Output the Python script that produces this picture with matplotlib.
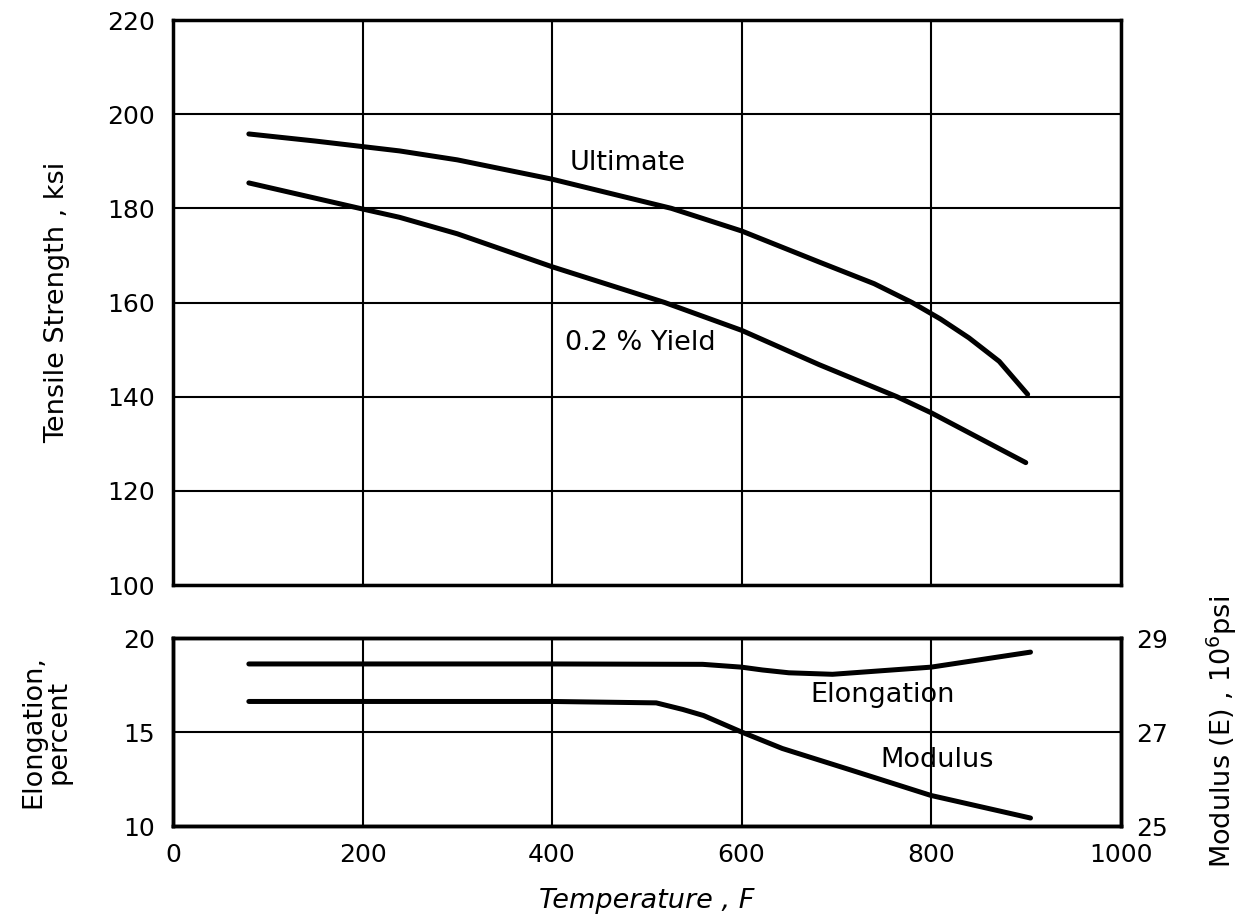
import matplotlib.pyplot as plt

# temperature, F
ult_temp = [80, 150, 239, 300, 400, 526, 600, 682, 740, 780, 810, 840, 872, 902]
ult_ksi = [195.8, 194.3, 192.2, 190.3, 186.2, 180.0, 175.2, 168.6, 164.0, 160.0,
           156.5, 152.5, 147.5, 140.5]

yld_temp = [80, 197, 239, 300, 400, 519, 600, 682, 764, 800, 900]
yld_ksi = [185.4, 180.0, 178.1, 174.6, 167.6, 160.0, 154.1, 146.8, 140.0, 136.6, 126.0]

elong_temp = [80, 200, 400, 559, 600, 622, 650, 696, 800, 905]
elong_pct = [18.62, 18.62, 18.62, 18.6, 18.45, 18.3, 18.15, 18.07, 18.45, 19.25]

mod_temp = [80, 200, 400, 510, 538, 560, 600, 643, 714, 800, 905]
mod_e = [27.65, 27.65, 27.65, 27.62, 27.48, 27.35, 27.0, 26.65, 26.2, 25.65, 25.17]

plt.rcParams['font.family'] = ['DejaVu Sans']
TICK_FS = 18
LABEL_FS = 19.5
LW = 3.6
SPINE_LW = 2.5
GRID_LW = 1.5

fig = plt.figure(figsize=(12.45, 9.18), dpi=100)
ax1 = fig.add_axes([0.139, 0.3627, 0.761, 0.6155])
ax2 = fig.add_axes([0.139, 0.1002, 0.761, 0.2048])

for ax in (ax1, ax2):
    ax.set_xlim(0, 1000)
    ax.set_xticks(range(0, 1001, 200))
    ax.grid(True, color='black', lw=GRID_LW)
    for s in ax.spines.values():
        s.set_linewidth(SPINE_LW)
    ax.tick_params(length=0, labelsize=TICK_FS)
    ax.tick_params(axis='y', pad=13)
    ax.tick_params(axis='x', pad=12)

ax1.plot(ult_temp, ult_ksi, color='black', lw=LW, solid_capstyle='round', solid_joinstyle='round')
ax1.plot(yld_temp, yld_ksi, color='black', lw=LW, solid_capstyle='round', solid_joinstyle='round')
ax1.set_ylim(100, 220)
ax1.set_yticks(range(100, 221, 20))
ax1.tick_params(labelbottom=False)
ax1.set_ylabel('Tensile Strength , ksi', fontsize=LABEL_FS)
ax1.yaxis.set_label_coords(-0.109, 0.5)
ax1.text(480, 189.7, 'Ultimate', fontsize=LABEL_FS, ha='center', va='center')
ax1.text(493, 151.3, '0.2 % Yield', fontsize=LABEL_FS, ha='center', va='center')

ax2.plot(elong_temp, elong_pct, color='black', lw=LW, solid_capstyle='round', solid_joinstyle='round')
ax2.set_ylim(10, 20)
ax2.set_yticks([10, 15, 20])
ax2.set_ylabel('Elongation,\npercent', fontsize=LABEL_FS, linespacing=0.95)
ax2.yaxis.set_label_coords(-0.107, 0.5)
ax2.set_xlabel('Temperature , F', fontsize=LABEL_FS, style='italic')
ax2.xaxis.set_label_coords(0.5, -0.33)
ax2.text(749, 16.95, 'Elongation', fontsize=LABEL_FS, ha='center', va='center')
ax2.text(806, 13.53, 'Modulus', fontsize=LABEL_FS, ha='center', va='center')

ax3 = ax2.twinx()
ax3.plot(mod_temp, mod_e, color='black', lw=LW, solid_capstyle='round', solid_joinstyle='round')
ax3.set_ylim(25, 29)
ax3.set_yticks([25, 27, 29])
ax3.tick_params(length=0, labelsize=TICK_FS, pad=11)
for s in ax3.spines.values():
    s.set_linewidth(SPINE_LW)
ax3.set_ylabel('Modulus (E) , 10$^6$psi', fontsize=LABEL_FS)
ax3.yaxis.set_label_coords(1.089, 0.5)

fig.savefig('out.png', dpi=100)
